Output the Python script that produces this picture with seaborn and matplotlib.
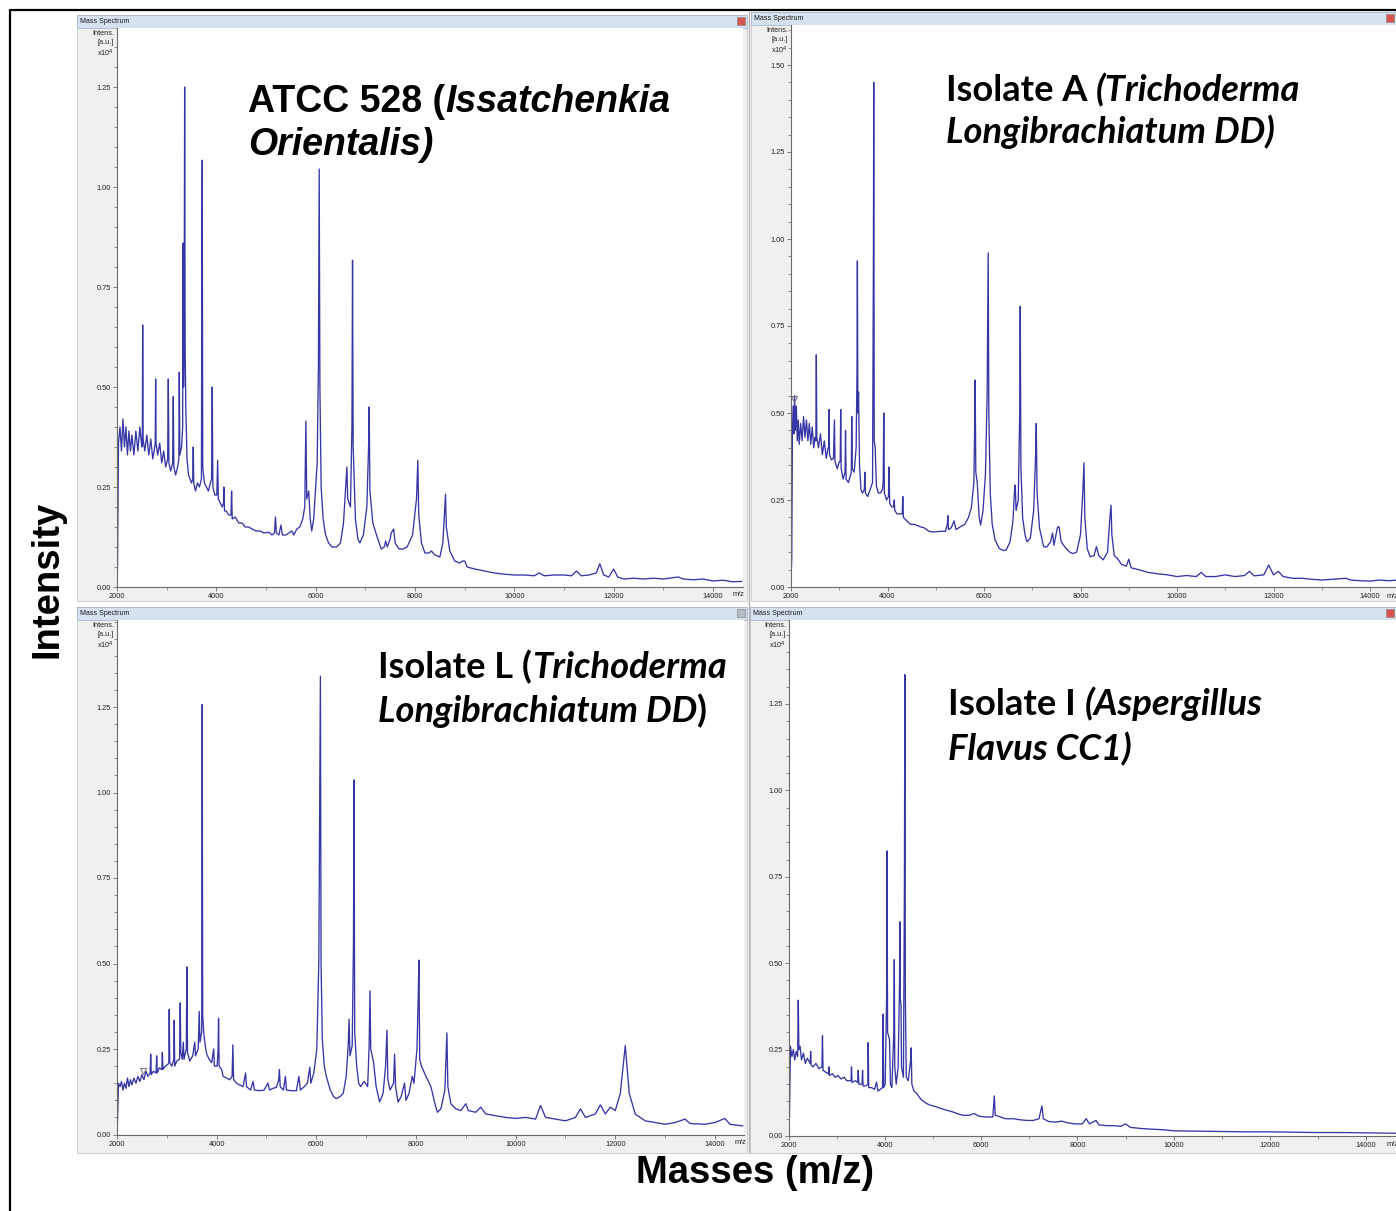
import matplotlib
matplotlib.use("Agg")
import matplotlib.pyplot as plt
import seaborn as sns
from matplotlib.patches import Rectangle
from matplotlib.ticker import MultipleLocator, FixedLocator

W, H, DPI = 1396, 1211, 100

# ---------------- data (m/z, intensity x10^4) ----------------
p1_mz = [2000, 2010, 2030, 2060, 2090, 2120, 2150, 2180, 2210, 2240, 2270, 2300, 2340, 2380, 2420, 2460,
         2500, 2510, 2517, 2525, 2560, 2600, 2640, 2680, 2720, 2760, 2770, 2778, 2786, 2820, 2860, 2900,
         2940, 2980, 3020, 3033, 3045, 3080, 3120, 3133, 3145, 3180, 3220, 3245, 3254, 3265, 3300, 3322,
         3330, 3340, 3352, 3362, 3372, 3385, 3410, 3440, 3470, 3500, 3525, 3535, 3545, 3580, 3620, 3660,
         3700, 3708, 3716, 3726, 3760, 3800, 3840, 3880, 3905, 3917, 3930, 3970, 4010, 4026, 4040, 4080,
         4120, 4145, 4153, 4165, 4200, 4250, 4295, 4307, 4320, 4380, 4450, 4520, 4580, 4650, 4720, 4800,
         4880, 4960, 5060, 5120, 5170, 5190, 5210, 5260, 5300, 5330, 5400, 5460, 5520, 5560, 5620, 5680,
         5740, 5780, 5803, 5820, 5860, 5890, 5920, 5960, 6000, 6030, 6055, 6071, 6085, 6110, 6150, 6200,
         6260, 6330, 6420, 6500, 6560, 6610, 6628, 6645, 6700, 6730, 6742, 6755, 6800, 6850, 6890, 6960,
         7030, 7065, 7077, 7092, 7150, 7225, 7280, 7320, 7380, 7410, 7440, 7500, 7520, 7545, 7570, 7600,
         7680, 7760, 7840, 7950, 8030, 8056, 8075, 8130, 8200, 8280, 8330, 8400, 8500, 8560, 8600, 8614,
         8630, 8700, 8800, 8900, 8960, 9000, 9050, 9200, 9400, 9600, 9800, 10000, 10200, 10400, 10500,
         10600, 10800, 11000, 11150, 11250, 11350, 11500, 11650, 11720, 11800, 11900, 12000, 12080, 12200,
         12400, 12600, 12800, 13000, 13300, 13400, 13600, 13800, 14000, 14200, 14400, 14580]
p1_int = [0.00, 0.05, 0.36, 0.40, 0.34, 0.42, 0.35, 0.40, 0.33, 0.39, 0.34, 0.38, 0.33, 0.39, 0.34, 0.40,
          0.35, 0.36, 0.655, 0.37, 0.34, 0.38, 0.33, 0.37, 0.32, 0.35, 0.36, 0.52, 0.36, 0.33, 0.36, 0.31,
          0.34, 0.30, 0.32, 0.52, 0.31, 0.29, 0.31, 0.476, 0.30, 0.28, 0.30, 0.32, 0.537, 0.33, 0.35, 0.40,
          0.86, 0.50, 0.62, 1.25, 0.60, 0.45, 0.32, 0.28, 0.27, 0.26, 0.27, 0.35, 0.26, 0.24, 0.26, 0.25,
          0.27, 0.76, 1.067, 0.30, 0.26, 0.25, 0.24, 0.26, 0.27, 0.50, 0.25, 0.23, 0.23, 0.317, 0.22, 0.21,
          0.20, 0.21, 0.25, 0.19, 0.19, 0.18, 0.18, 0.24, 0.17, 0.175, 0.16, 0.16, 0.15, 0.15, 0.145, 0.14,
          0.14, 0.135, 0.137, 0.13, 0.135, 0.175, 0.135, 0.13, 0.155, 0.13, 0.13, 0.135, 0.14, 0.13, 0.145, 0.15,
          0.17, 0.20, 0.415, 0.22, 0.24, 0.17, 0.14, 0.17, 0.25, 0.31, 0.55, 1.045, 0.50, 0.25, 0.17, 0.13,
          0.11, 0.10, 0.10, 0.11, 0.16, 0.26, 0.30, 0.22, 0.20, 0.40, 0.817, 0.35, 0.17, 0.12, 0.11, 0.13,
          0.20, 0.35, 0.45, 0.24, 0.16, 0.13, 0.11, 0.095, 0.10, 0.115, 0.10, 0.12, 0.135, 0.14, 0.145, 0.11,
          0.095, 0.095, 0.10, 0.13, 0.22, 0.317, 0.18, 0.11, 0.085, 0.085, 0.09, 0.08, 0.075, 0.11, 0.20, 0.232,
          0.15, 0.09, 0.065, 0.06, 0.065, 0.065, 0.05, 0.045, 0.04, 0.035, 0.032, 0.03, 0.03, 0.028, 0.035,
          0.028, 0.03, 0.03, 0.028, 0.04, 0.028, 0.03, 0.035, 0.058, 0.03, 0.025, 0.045, 0.025, 0.02,
          0.022, 0.02, 0.022, 0.02, 0.025, 0.02, 0.018, 0.02, 0.015, 0.017, 0.013, 0.014]

p2_mz = [2000, 2015, 2030, 2045, 2060, 2075, 2090, 2110, 2130, 2150, 2170, 2200, 2230, 2260, 2290, 2320,
         2350, 2380, 2410, 2440, 2470, 2500, 2515, 2525, 2535, 2570, 2610, 2650, 2690, 2730, 2770, 2780,
         2788, 2798, 2840, 2880, 2900, 2912, 2960, 3000, 3020, 3030, 3040, 3080, 3120, 3130, 3142, 3190,
         3230, 3250, 3259, 3270, 3310, 3350, 3368, 3376, 3386, 3400, 3420, 3450, 3480, 3520, 3530, 3542,
         3590, 3640, 3690, 3708, 3715, 3725, 3745, 3770, 3810, 3850, 3895, 3910, 3923, 3935, 3980, 4020,
         4033, 4045, 4090, 4130, 4140, 4150, 4200, 4260, 4305, 4317, 4330, 4400, 4480, 4560, 4680, 4760,
         4860, 4960, 5100, 5200, 5240, 5250, 5265, 5320, 5380, 5420, 5510, 5600, 5680, 5740, 5790, 5805,
         5817, 5830, 5860, 5900, 5930, 5980, 6030, 6065, 6087, 6100, 6130, 6170, 6230, 6320, 6400, 6460,
         6540, 6600, 6630, 6647, 6665, 6710, 6740, 6751, 6765, 6800, 6850, 6890, 6960, 7030, 7070, 7083,
         7100, 7150, 7235, 7300, 7380, 7420, 7450, 7520, 7540, 7555, 7600, 7650, 7705, 7780, 7840, 7920,
         8000, 8050, 8072, 8090, 8140, 8200, 8280, 8330, 8380, 8470, 8560, 8610, 8633, 8650, 8700, 8760,
         8850, 8950, 9000, 9050, 9200, 9400, 9600, 9800, 10000, 10200, 10400, 10500, 10600, 10800, 11000,
         11200, 11400, 11500, 11600, 11800, 11900, 12000, 12100, 12200, 12400, 12600, 12800, 13000, 13200,
         13500, 13600, 13800, 14000, 14200, 14400, 14560]
p2_int = [0.02, 0.08, 0.45, 0.52, 0.44, 0.55, 0.45, 0.52, 0.42, 0.48, 0.41, 0.47, 0.42, 0.49, 0.43, 0.48,
          0.42, 0.47, 0.41, 0.46, 0.40, 0.43, 0.42, 0.667, 0.43, 0.40, 0.44, 0.38, 0.42, 0.37, 0.40, 0.40,
          0.51, 0.38, 0.365, 0.37, 0.48, 0.36, 0.34, 0.36, 0.36, 0.51, 0.34, 0.31, 0.33, 0.45, 0.31, 0.30,
          0.32, 0.33, 0.49, 0.34, 0.33, 0.40, 0.62, 0.937, 0.50, 0.56, 0.35, 0.28, 0.27, 0.28, 0.33, 0.27,
          0.26, 0.28, 0.30, 0.95, 1.45, 0.42, 0.40, 0.29, 0.27, 0.27, 0.28, 0.30, 0.50, 0.27, 0.25, 0.26,
          0.345, 0.24, 0.23, 0.23, 0.25, 0.22, 0.21, 0.21, 0.21, 0.26, 0.20, 0.19, 0.18, 0.18, 0.173, 0.17,
          0.16, 0.158, 0.16, 0.16, 0.18, 0.205, 0.165, 0.17, 0.19, 0.165, 0.173, 0.18, 0.20, 0.23, 0.30, 0.45,
          0.595, 0.33, 0.30, 0.20, 0.178, 0.22, 0.325, 0.55, 0.96, 0.50, 0.27, 0.18, 0.135, 0.11, 0.105, 0.106,
          0.13, 0.19, 0.27, 0.293, 0.22, 0.25, 0.50, 0.807, 0.345, 0.20, 0.15, 0.13, 0.14, 0.22, 0.38, 0.47,
          0.27, 0.17, 0.116, 0.115, 0.13, 0.155, 0.12, 0.17, 0.173, 0.173, 0.13, 0.12, 0.11, 0.10, 0.096, 0.10,
          0.15, 0.28, 0.357, 0.20, 0.11, 0.087, 0.09, 0.116, 0.09, 0.078, 0.10, 0.20, 0.235, 0.15, 0.09, 0.083,
          0.065, 0.06, 0.08, 0.055, 0.05, 0.042, 0.038, 0.035, 0.03, 0.033, 0.03, 0.042, 0.03, 0.03, 0.035,
          0.03, 0.033, 0.045, 0.032, 0.035, 0.063, 0.035, 0.045, 0.03, 0.025, 0.025, 0.022, 0.02, 0.022,
          0.025, 0.02, 0.018, 0.017, 0.02, 0.018, 0.02]

p3_mz = [2000, 2010, 2030, 2060, 2090, 2120, 2150, 2180, 2210, 2240, 2270, 2300, 2340, 2380, 2420, 2460,
         2500, 2540, 2580, 2620, 2665, 2676, 2688, 2730, 2785, 2796, 2808, 2850, 2900, 2910, 2922, 2970,
         3020, 3040, 3048, 3058, 3100, 3140, 3148, 3158, 3200, 3255, 3262, 3269, 3280, 3310, 3330, 3345,
         3390, 3403, 3415, 3460, 3520, 3560, 3575, 3630, 3650, 3665, 3700, 3705, 3710, 3720, 3740, 3770,
         3800, 3850, 3900, 3940, 3955, 4010, 4030, 4038, 4050, 4100, 4130, 4200, 4260, 4310, 4325, 4340,
         4400, 4460, 4530, 4580, 4600, 4680, 4730, 4760, 4860, 4950, 5030, 5060, 5130, 5200, 5245, 5260,
         5275, 5340, 5380, 5400, 5500, 5600, 5650, 5680, 5760, 5820, 5870, 5890, 5950, 6010, 6050, 6082,
         6095, 6120, 6160, 6200, 6280, 6350, 6400, 6470, 6540, 6600, 6640, 6657, 6675, 6720, 6745, 6757,
         6770, 6810, 6850, 6890, 6960, 7030, 7060, 7077, 7092, 7150, 7200, 7270, 7340, 7390, 7417, 7435,
         7480, 7550, 7571, 7590, 7640, 7700, 7770, 7800, 7860, 7925, 7960, 8020, 8045, 8059, 8075, 8110,
         8200, 8300, 8380, 8430, 8500, 8580, 8620, 8640, 8700, 8800, 8900, 9000, 9050, 9200, 9300, 9400,
         9600, 9800, 10000, 10200, 10400, 10500, 10600, 10800, 11000, 11200, 11300, 11400, 11600, 11700,
         11800, 11900, 12000, 12100, 12200, 12280, 12400, 12600, 12800, 13000, 13200, 13400, 13500, 13800,
         14000, 14200, 14300, 14560]
p3_int = [0.01, 0.04, 0.15, 0.14, 0.155, 0.13, 0.15, 0.135, 0.165, 0.14, 0.16, 0.145, 0.165, 0.15, 0.17, 0.155,
          0.175, 0.16, 0.185, 0.17, 0.18, 0.235, 0.175, 0.185, 0.18, 0.23, 0.18, 0.195, 0.19, 0.24, 0.19, 0.20,
          0.205, 0.21, 0.366, 0.21, 0.20, 0.22, 0.334, 0.20, 0.215, 0.22, 0.30, 0.385, 0.24, 0.22, 0.27, 0.22,
          0.25, 0.49, 0.24, 0.215, 0.23, 0.27, 0.23, 0.25, 0.36, 0.27, 0.30, 0.71, 1.257, 0.35, 0.30, 0.26,
          0.235, 0.22, 0.21, 0.25, 0.20, 0.20, 0.25, 0.34, 0.20, 0.19, 0.17, 0.165, 0.16, 0.17, 0.262, 0.16,
          0.15, 0.145, 0.14, 0.18, 0.14, 0.13, 0.155, 0.13, 0.128, 0.13, 0.15, 0.13, 0.135, 0.138, 0.16, 0.19,
          0.14, 0.13, 0.17, 0.13, 0.128, 0.128, 0.17, 0.13, 0.14, 0.15, 0.197, 0.15, 0.18, 0.25, 0.505, 1.34,
          0.50, 0.28, 0.20, 0.17, 0.13, 0.11, 0.105, 0.11, 0.12, 0.17, 0.26, 0.337, 0.23, 0.26, 0.55, 1.037,
          0.30, 0.20, 0.15, 0.14, 0.155, 0.14, 0.26, 0.42, 0.25, 0.21, 0.14, 0.095, 0.12, 0.20, 0.305, 0.16,
          0.13, 0.15, 0.235, 0.14, 0.095, 0.11, 0.15, 0.10, 0.12, 0.17, 0.15, 0.25, 0.40, 0.51, 0.22, 0.20,
          0.17, 0.14, 0.09, 0.065, 0.075, 0.13, 0.297, 0.14, 0.09, 0.075, 0.07, 0.09, 0.07, 0.065, 0.08, 0.06,
          0.055, 0.05, 0.047, 0.05, 0.045, 0.085, 0.05, 0.045, 0.04, 0.05, 0.075, 0.05, 0.06, 0.087,
          0.06, 0.08, 0.07, 0.12, 0.26, 0.12, 0.06, 0.04, 0.035, 0.03, 0.035, 0.045, 0.032, 0.03,
          0.035, 0.047, 0.03, 0.025]

p4_mz = [2000, 2010, 2030, 2060, 2090, 2120, 2150, 2180, 2193, 2205, 2230, 2260, 2300, 2340, 2380, 2440,
         2450, 2462, 2500, 2560, 2620, 2685, 2696, 2708, 2760, 2820, 2830, 2840, 2900, 2960, 3020, 3080,
         3150, 3200, 3290, 3300, 3310, 3380, 3430, 3440, 3452, 3520, 3530, 3540, 3600, 3640, 3647, 3658,
         3720, 3780, 3820, 3850, 3900, 3945, 3957, 3968, 4000, 4030, 4039, 4050, 4090, 4110, 4140, 4180,
         4190, 4200, 4230, 4270, 4300, 4307, 4315, 4330, 4340, 4380, 4400, 4410, 4420, 4440, 4480, 4530,
         4541, 4555, 4600, 4650, 4750, 4850, 4920, 5050, 5150, 5270, 5400, 5500, 5610, 5750, 5850, 5960,
         6100, 6240, 6270, 6290, 6400, 6500, 6670, 6800, 6950, 7080, 7200, 7260, 7290, 7400, 7550, 7670,
         7800, 7950, 8100, 8180, 8250, 8385, 8450, 8600, 8760, 8900, 9000, 9100, 9300, 9500, 9800, 10000,
         10500, 11000, 11500, 12000, 12500, 13000, 13500, 14000, 14620]
p4_int = [0.02, 0.06, 0.26, 0.23, 0.25, 0.22, 0.245, 0.23, 0.393, 0.25, 0.26, 0.22, 0.24, 0.21, 0.225, 0.21,
          0.245, 0.205, 0.20, 0.21, 0.195, 0.20, 0.29, 0.19, 0.185, 0.18, 0.20, 0.175, 0.18, 0.17, 0.175, 0.165,
          0.17, 0.16, 0.16, 0.20, 0.155, 0.16, 0.155, 0.19, 0.15, 0.15, 0.19, 0.145, 0.145, 0.15, 0.27, 0.14,
          0.14, 0.135, 0.156, 0.13, 0.135, 0.14, 0.353, 0.14, 0.15, 0.40, 0.825, 0.30, 0.28, 0.15, 0.14, 0.30,
          0.51, 0.20, 0.15, 0.20, 0.45, 0.62, 0.40, 0.38, 0.20, 0.17, 0.70, 1.335, 0.40, 0.17, 0.16, 0.22,
          0.255, 0.15, 0.13, 0.124, 0.105, 0.095, 0.09, 0.085, 0.08, 0.075, 0.07, 0.065, 0.06, 0.06, 0.065, 0.057,
          0.055, 0.055, 0.116, 0.06, 0.055, 0.05, 0.05, 0.047, 0.045, 0.045, 0.05, 0.087, 0.05, 0.042, 0.04, 0.043,
          0.038, 0.035, 0.035, 0.05, 0.035, 0.045, 0.032, 0.03, 0.03, 0.028, 0.035, 0.025, 0.022, 0.02, 0.018, 0.015,
          0.014, 0.013, 0.012, 0.012, 0.011, 0.01, 0.01, 0.009, 0.008]

# threshold markers (m/z, intensity) seen on two spectra
p2_marker = (2060, 0.54)
p3_marker = (2520, 0.185)

x_tick_labels = ["2000", "4000", "6000", "8000", "10000", "12000", "14000"]
titles = [
    [[("ATCC 528 (", "normal"), ("Issatchenkia", "italic")], [("Orientalis)", "italic")]],
    [[("Isolate A", "normal"), (" ", "normal"), ("(Trichoderma", "italic")], [("Longibrachiatum DD)", "italic")]],
    [[("Isolate L (", "normal"), ("Trichoderma", "italic")], [("Longibrachiatum DD", "italic"), (")", "normal")]],
    [[("Isolate I", "normal"), (" ", "normal"), ("(Aspergillus", "italic")], [("Flavus CC1)", "italic")]],
]

# ---------------- style ----------------
sns.set_style("white")
plt.rcParams['font.family'] = ['Liberation Sans', 'DejaVu Sans']
LINE = '#3636a6'
GRAY = '#f0f0f0'
BAR = '#d7e2f0'

fig = plt.figure(figsize=(W / DPI, H / DPI), dpi=DPI)
fig.patch.set_facecolor('white')
bg = fig.add_axes([0, 0, 1, 1], zorder=-5)
bg.set_xlim(0, W)
bg.set_ylim(H, 0)
bg.axis('off')

panels = [
    dict(win=(77, 15, 747, 601), bar=(77, 15, 747, 28), ax=(117, 28, 743, 587), x0=117, ppk=49.67,
         y0=587, ppu=400, ytop=1.25, data=(p1_mz, p1_int), icon='#d9534f', mz=(738, 594), marker=None,
         title=dict(x=248, base=(112, 155), right=670, family='Liberation Sans')),
    dict(win=(751, 12, 1400, 601), bar=(751, 12, 1400, 25), ax=(791, 25, 1396, 587), x0=791, ppk=48.25,
         y0=587, ppu=348, ytop=1.5, data=(p2_mz, p2_int), icon='#d9534f', mz=(1392, 596), marker=p2_marker,
         title=dict(x=946, base=(101, 143), right=1300, family='Lato')),
    dict(win=(77, 607, 747, 1153), bar=(77, 607, 747, 620), ax=(117, 620, 744, 1134.5), x0=117, ppk=49.83,
         y0=1134.5, ppu=342, ytop=1.25, data=(p3_mz, p3_int), icon='#b8bcc4', mz=(740, 1142), marker=p3_marker,
         title=dict(x=378, base=(678, 722), right=727, family='Lato')),
    dict(win=(750, 607, 1400, 1153), bar=(750, 607, 1400, 620), ax=(789, 620, 1396, 1136), x0=789, ppk=48.08,
         y0=1136, ppu=345.6, ytop=1.25, data=(p4_mz, p4_int), icon='#d9534f', mz=(1392, 1144), marker=None,
         title=dict(x=948, base=(715, 760), right=1262, family='Lato')),
]

renderer = fig.canvas.get_renderer()


def text_w(txt, style, size, family):
    if txt == " ":
        a = fig.text(0, 0, "n n", fontsize=size, fontweight='bold', fontstyle=style, family=family)
        b = fig.text(0, 0, "nn", fontsize=size, fontweight='bold', fontstyle=style, family=family)
        w = a.get_window_extent(renderer).width - b.get_window_extent(renderer).width
        a.remove(); b.remove()
        return w
    t = fig.text(0, 0, txt, fontsize=size, fontweight='bold', fontstyle=style, family=family)
    w = t.get_window_extent(renderer).width
    t.remove()
    return w


def draw_line(x, y, parts, size, family):
    for txt, style in parts:
        if txt != " ":
            fig.text(x / W, 1 - y / H, txt, fontsize=size, fontweight='bold', fontstyle=style,
                     family=[family, 'DejaVu Sans'], ha='left', va='baseline', zorder=20, color='black')
        x += text_w(txt, style, size, family)


for p, ttl in zip(panels, titles):
    l, t, r, b = p['win']
    bg.add_patch(Rectangle((l, t), r - l, b - t, facecolor=GRAY, edgecolor='#c8c8c8', lw=0.6))
    bl, bt, br, bb = p['bar']
    bg.add_patch(Rectangle((bl, bt), br - bl, bb - bt, facecolor=BAR, edgecolor='#a9b8cc', lw=0.6))
    bg.text(bl + 3, (bt + bb) / 2, "Mass Spectrum", fontsize=5, va='center', ha='left', color='#1a1a1a')
    ix = min(br, W) - 10
    bg.add_patch(Rectangle((ix, bt + 2), 8, 8, facecolor=p['icon'], edgecolor='#8a8a8a', lw=0.5))

    al, at, ar, ab = p['ax']
    ax = fig.add_axes([al / W, 1 - ab / H, (ar - al) / W, (ab - at) / H], zorder=1)
    ax.set_facecolor('white')
    mz, inten = p['data']
    sns.lineplot(x=mz, y=inten, ax=ax, color=LINE, linewidth=0.95, estimator=None, sort=False)
    if p['marker'] is not None:
        ax.plot([p['marker'][0]], [p['marker'][1]], marker='v', markersize=5, markerfacecolor='none',
                markeredgecolor='#707070', markeredgewidth=0.7, linestyle='none')
    ax.set_xlim(2000 + (al - p['x0']) / p['ppk'] * 1000, 2000 + (ar - p['x0']) / p['ppk'] * 1000)
    ax.set_ylim((p['y0'] - ab) / p['ppu'], (p['y0'] - at) / p['ppu'])
    for s in ['top', 'right']:
        ax.spines[s].set_visible(False)
    for s in ['left', 'bottom']:
        ax.spines[s].set_color('#6a6a6a')
        ax.spines[s].set_linewidth(0.8)
    ax.xaxis.set_major_locator(FixedLocator([2000, 4000, 6000, 8000, 10000, 12000, 14000]))
    ax.set_xticklabels(x_tick_labels)
    ax.xaxis.set_minor_locator(MultipleLocator(1000))
    yt = [i * 0.25 for i in range(int(round(p['ytop'] / 0.25)) + 1)]
    ax.yaxis.set_major_locator(FixedLocator(yt))
    ax.set_yticklabels([f"{v:.2f}" for v in yt])
    ax.yaxis.set_minor_locator(MultipleLocator(0.05))
    ax.tick_params(axis='both', which='major', direction='out', length=3, width=0.6, color='#6a6a6a',
                   labelsize=5.3, labelcolor='#222222', pad=1.5, left=True, bottom=True)
    ax.tick_params(axis='both', which='minor', direction='out', length=2, width=0.5, color='#6a6a6a',
                   left=True, bottom=True)
    ax.set_xlabel("")
    ax.set_ylabel("")
    # unit labels
    bg.text(al - 3, at + 5.5, "Intens.", fontsize=5.3, ha='right', va='center', color='#222222')
    bg.text(al - 3, at + 14.5, "[a.u.]", fontsize=5.3, ha='right', va='center', color='#222222')
    bg.text(al - 3, at + 25, r"x10$^4$", fontsize=5.3, ha='right', va='center', color='#222222')
    bg.text(p['mz'][0], p['mz'][1], "m/z", fontsize=5.3, ha='center', va='center', color='#222222')

    # big titles
    td = p['title']
    fam = td['family']
    line1 = ttl[0]
    w20 = sum(text_w(txt, st, 20, fam) for txt, st in line1)
    size = 20 * (td['right'] - td['x']) / w20
    draw_line(td['x'], td['base'][0], line1, size, fam)
    draw_line(td['x'], td['base'][1], ttl[1], size, fam)

# divider between columns
bg.plot([749, 749], [12, 1153], color='#b0b0b0', lw=1.0)

# outer frame
bg.plot([10, 10], [10, H + 5], color='black', lw=1.6, clip_on=False)
bg.plot([10, W + 5], [10, 10], color='black', lw=1.6, clip_on=False)

# axis titles
fig.text(48 / W, 1 - 579 / H, "Intensity", rotation=90, fontsize=27.5, fontweight='bold',
         ha='center', va='center', family=['Liberation Sans', 'DejaVu Sans'], color='black')
fig.text(755 / W, 1 - 1173 / H, "Masses (m/z)", fontsize=27.5, fontweight='bold',
         ha='center', va='center', family=['Liberation Sans', 'DejaVu Sans'], color='black')

fig.savefig("out.png", dpi=DPI)
